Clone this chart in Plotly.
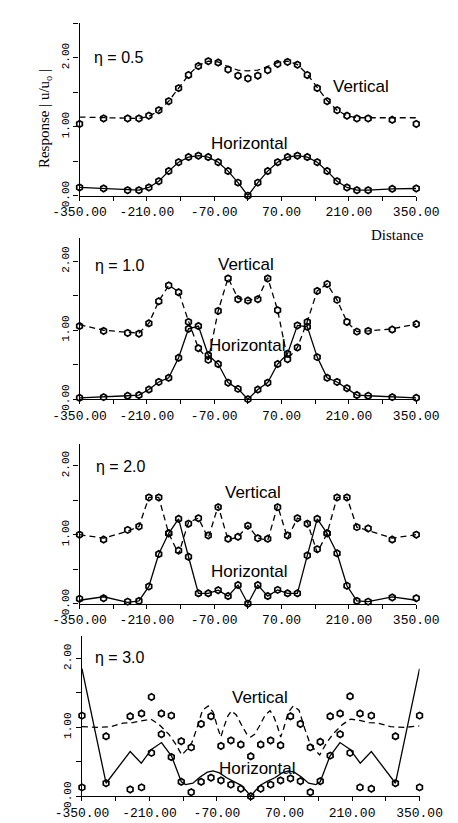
import plotly.graph_objects as go

# ---------------- data ----------------
X = [-350, -300, -250, -226.5, -205.9, -185.3, -164.7, -144.1, -123.5, -102.9, -82.4, -61.8, -41.2, -20.6, 0,
     20.6, 41.2, 61.8, 82.4, 102.9, 123.5, 144.1, 164.7, 185.3, 205.9, 226.5, 250, 300, 350]

# eta = 0.5
v05_pts = [1.04, 1.12, 1.12, 1.12, 1.16, 1.24, 1.37, 1.56, 1.75, 1.88, 1.95, 1.93, 1.83, 1.74, 1.70,
           1.74, 1.82, 1.91, 1.94, 1.90, 1.75, 1.56, 1.37, 1.24, 1.16, 1.12, 1.12, 1.10, 1.04]
v05_line = [1.14, 1.13, 1.12, 1.12, 1.15, 1.23, 1.37, 1.56, 1.75, 1.89, 1.95, 1.94, 1.87, 1.82, 1.81,
            1.82, 1.87, 1.93, 1.95, 1.90, 1.76, 1.57, 1.38, 1.24, 1.16, 1.13, 1.13, 1.13, 1.13]
h05_pts = [0.12, 0.105, 0.08, 0.08, 0.12, 0.21, 0.357, 0.486, 0.56, 0.58, 0.56, 0.486, 0.357, 0.19, 0.0,
           0.19, 0.357, 0.486, 0.56, 0.58, 0.56, 0.486, 0.357, 0.21, 0.12, 0.08, 0.08, 0.10, 0.105]
h05_line = [0.12, 0.105, 0.08, 0.08, 0.12, 0.21, 0.357, 0.486, 0.56, 0.58, 0.56, 0.486, 0.357, 0.19, 0.0,
            0.19, 0.357, 0.486, 0.56, 0.58, 0.56, 0.486, 0.357, 0.21, 0.12, 0.08, 0.08, 0.10, 0.105]

# eta = 1.0
v10_pts = [1.06, 0.99, 0.96, 0.95, 1.10, 1.42, 1.65, 1.55, 1.12, 0.74, 0.57, 1.28, 1.75, 1.45, 1.43,
           1.45, 1.75, 1.29, 0.58, 0.75, 1.12, 1.57, 1.67, 1.44, 1.12, 0.98, 0.99, 1.01, 1.09]
v10_line = [1.08, 1.00, 0.97, 0.96, 1.10, 1.42, 1.65, 1.56, 1.13, 0.74, 0.57, 1.28, 1.76, 1.46, 1.43,
            1.46, 1.76, 1.29, 0.58, 0.75, 1.13, 1.57, 1.67, 1.44, 1.12, 0.98, 0.99, 1.02, 1.09]
h10_pts = [0.02, 0.03, 0.05, 0.06, 0.14, 0.25, 0.31, 0.60, 1.02, 1.06, 0.64, 0.51, 0.24, 0.15, 0.0,
           0.14, 0.24, 0.51, 0.66, 1.07, 1.05, 0.61, 0.31, 0.25, 0.16, 0.06, 0.05, 0.03, 0.02]
h10_line = [0.02, 0.03, 0.05, 0.06, 0.14, 0.25, 0.31, 0.60, 1.02, 1.06, 0.64, 0.51, 0.24, 0.15, 0.0,
            0.14, 0.24, 0.51, 0.66, 1.07, 1.05, 0.61, 0.31, 0.25, 0.16, 0.06, 0.05, 0.03, 0.02]

# eta = 2.0
v20_pts = [1.00, 0.93, 1.07, 1.12, 1.54, 1.54, 1.02, 0.77, 1.16, 1.24, 0.99, 1.40, 0.94, 0.97, 1.13,
           0.95, 0.94, 1.40, 0.99, 1.24, 1.16, 0.79, 1.02, 1.54, 1.54, 1.11, 1.09, 0.93, 1.00]
v20_line = [1.00, 0.95, 1.05, 1.12, 1.54, 1.54, 1.02, 0.72, 1.18, 1.24, 0.95, 1.42, 0.92, 0.97, 1.13,
            0.95, 0.92, 1.42, 0.95, 1.24, 1.18, 0.74, 1.02, 1.54, 1.54, 1.11, 1.06, 0.95, 1.00]
h20_pts = [0.07, 0.08, 0.03, 0.04, 0.25, 0.72, 1.02, 1.23, 0.68, 0.15, 0.15, 0.195, 0.11, 0.27, 0.0,
           0.27, 0.11, 0.20, 0.15, 0.15, 0.70, 1.23, 1.02, 0.73, 0.26, 0.04, 0.03, 0.09, 0.08]
h20_line = [0.05, 0.10, 0.02, 0.04, 0.25, 0.72, 1.02, 1.23, 0.68, 0.15, 0.15, 0.195, 0.11, 0.27, 0.0,
            0.27, 0.11, 0.20, 0.15, 0.15, 0.70, 1.23, 1.02, 0.73, 0.26, 0.04, 0.03, 0.10, 0.05]

# eta = 3.0
v30_pts = [1.17, 0.87, 1.16, 1.20, 1.44, 1.20, 1.17, 0.80, 0.71, 1.05, 1.16, 0.73, 0.81, 0.75, 0.58,
           0.75, 0.81, 0.74, 1.16, 1.05, 0.71, 0.79, 1.16, 1.20, 1.45, 1.20, 1.17, 0.87, 1.17]
h30_pts = [0.13, 0.19, 0.10, 0.13, 0.63, 0.90, 0.57, 0.21, 0.06, 0.21, 0.27, 0.23, 0.17, 0.11, 0.0,
           0.11, 0.17, 0.23, 0.26, 0.22, 0.06, 0.22, 0.59, 0.90, 0.63, 0.13, 0.11, 0.19, 0.13]
X30_h = [-350, -300, -250, -227, -206, -185, -164, -144, -135, -120, -105, -90, -78, -65, -50, -35, -20, -8, 0,
         8, 20, 35, 50, 65, 78, 90, 105, 120, 135, 144, 164, 185, 206, 227, 250, 300, 350]
h30_line = [1.85, 0.19, 0.65, 0.48, 0.68, 0.78, 0.58, 0.21, 0.17, 0.19, 0.28, 0.35, 0.37, 0.34, 0.27, 0.22, 0.16, 0.07, 0.0,
            0.07, 0.16, 0.22, 0.27, 0.34, 0.37, 0.35, 0.28, 0.19, 0.17, 0.21, 0.58, 0.78, 0.68, 0.48, 0.65, 0.19, 1.85]
X30_v = [-350, -318, -290, -265, -245, -226, -207, -190, -170, -155, -143, -132, -122, -112, -100, -88, -78, -68, -62,
         -55, -47, -40, -30, -18, -8, 0, 8, 18, 30, 40, 47, 55, 62, 68, 78, 88, 100, 112, 122, 132, 143, 155, 170,
         190, 207, 226, 245, 265, 290, 318, 350]
v30_line = [1.01, 1.00, 1.01, 1.06, 1.07, 1.10, 1.12, 1.04, 0.90, 0.75, 0.60, 0.68, 0.78, 0.98, 1.25, 1.31, 1.22, 0.98, 0.86,
            1.02, 1.17, 1.24, 1.18, 1.02, 0.90, 0.86, 0.90, 1.02, 1.18, 1.24, 1.17, 1.02, 0.86, 0.98, 1.22, 1.31, 1.25,
            0.98, 0.78, 0.68, 0.60, 0.75, 0.90, 1.04, 1.12, 1.10, 1.07, 1.06, 1.01, 1.00, 1.02]

x_label_vals = [-350, -210, -70, 70, 210, 350]
x_label_text = ["-350.00", "-210.00", "-70.00", "70.00", "210.00", "350.00"]
x_minor_vals = [-280, -140, 0, 140, 280]
y_label_vals = [0, 1.0, 2.0]
y_label_text = ["0.00", "1.00", "2.00"]
y_minor_vals = [0.5, 1.5, 2.5]

etas = ["η = 0.5", "η = 1.0", "η = 2.0", "η = 3.0"]

# ---------------- layout helpers ----------------
W, H = 458, 823
PXU = 70.0  # pixels per response unit


def fx(px):
    return px / W


def fy(py):
    return 1 - py / H


# panel geometry in pixels: (x_left, x_right, y_zero, y_top)
panels = [(50, 428, 190.5, 15), (50, 428, 397, 233), (50, 428, 604.5, 442), (52.7, 431.7, 800, 637)]

fig = go.Figure()

mk = dict(symbol="hexagon-open", size=6.5, color="black", line=dict(color="black", width=1.7))
solid = dict(color="black", width=1.3)
dashed = dict(color="black", width=1.3, dash="6px,4px")

series = [
    (X, v05_line, X, h05_line, v05_pts, h05_pts),
    (X, v10_line, X, h10_line, v10_pts, h10_pts),
    (X, v20_line, X, h20_line, v20_pts, h20_pts),
    (X30_v, v30_line, X30_h, h30_line, v30_pts, h30_pts),
]

for i, (xl, xr, y0, yt) in enumerate(panels):
    n = i + 1
    xa = "x" if n == 1 else f"x{n}"
    ya = "y" if n == 1 else f"y{n}"
    xv, vl, xh, hl, vp, hp = series[i]
    fig.add_trace(go.Scatter(x=xv, y=vl, mode="lines", line=dashed, xaxis=xa, yaxis=ya, cliponaxis=False))
    fig.add_trace(go.Scatter(x=xh, y=hl, mode="lines", line=solid, xaxis=xa, yaxis=ya, cliponaxis=False))
    fig.add_trace(go.Scatter(x=X, y=vp, mode="markers", marker=mk, xaxis=xa, yaxis=ya, cliponaxis=False))
    fig.add_trace(go.Scatter(x=X, y=hp, mode="markers", marker=mk, xaxis=xa, yaxis=ya, cliponaxis=False))

    top = (y0 - yt) / PXU
    xkey = "xaxis" if n == 1 else f"xaxis{n}"
    ykey = "yaxis" if n == 1 else f"yaxis{n}"
    ymv = [v for v in y_minor_vals if v <= top + 1e-6]
    fig.layout[xkey] = dict(
        domain=[fx(xl), fx(xr)], range=[-350, 350], anchor=ya,
        showline=True, linecolor="black", linewidth=1.3, mirror=False,
        ticks="outside", ticklen=4, tickwidth=1.3, tickcolor="black",
        tickmode="array", tickvals=x_label_vals, ticktext=x_label_text, tickangle=0,
        minor=dict(tickmode="array", tickvals=x_minor_vals, ticks="outside", ticklen=4,
                   tickwidth=1.3, tickcolor="black", showgrid=False),
        tickfont=dict(family="Liberation Mono", size=13, color="black"),
        showgrid=False, zeroline=False, fixedrange=True,
    )
    fig.layout[ykey] = dict(
        domain=[fy(y0), fy(yt)], range=[0, top], anchor=xa,
        showline=True, linecolor="black", linewidth=1.3,
        ticks="outside", ticklen=5, tickwidth=1.3, tickcolor="black",
        tickmode="array", tickvals=y_label_vals, ticktext=y_label_text, tickangle=-90,
        minor=dict(tickmode="array", tickvals=ymv, ticks="outside", ticklen=5,
                   tickwidth=1.3, tickcolor="black", showgrid=False),
        tickfont=dict(family="Liberation Mono", size=11, color="black"),
        showgrid=False, zeroline=False, fixedrange=True,
    )

# ---------------- text labels ----------------
lab_font = dict(family="Liberation Sans", size=17, color="black")
labels = [
    ("Vertical", 366, 80), ("Horizontal", 241, 137),
    ("Vertical", 237, 260), ("Horizontal", 239, 343),
    ("Vertical", 245, 492), ("Horizontal", 241, 572),
    ("Vertical", 253, 700), ("Horizontal", 250, 772),
]
ann = []
for t, px, py in labels:
    ann.append(dict(text=t, x=fx(px), y=fy(py), xref="paper", yref="paper", showarrow=False,
                    font=lab_font, xanchor="center", yanchor="middle"))
eta_pos = [(64, 50), (65, 261), (66, 465), (65, 659)]
for t, (px, py) in zip(etas, eta_pos):
    ann.append(dict(text=t, x=fx(px), y=fy(py), xref="paper", yref="paper", showarrow=False,
                    font=dict(family="Liberation Sans", size=16, color="black"), xanchor="left", yanchor="middle"))
ann.append(dict(text="Distance", x=fx(407), y=fy(230), xref="paper", yref="paper", showarrow=False,
                font=dict(family="Liberation Serif", size=15, color="black"), xanchor="center", yanchor="middle"))
ann.append(dict(text="Response | u/u<sub>o</sub> |", x=fx(12), y=fy(112), xref="paper", yref="paper",
                showarrow=False, textangle=-90,
                font=dict(family="Liberation Serif", size=15, color="black"), xanchor="center", yanchor="middle"))

fig.update_layout(
    width=W, height=H, autosize=False,
    margin=dict(l=0, r=0, t=0, b=0),
    paper_bgcolor="white", plot_bgcolor="white",
    showlegend=False, annotations=ann,
)

fig.write_html("out.html")
